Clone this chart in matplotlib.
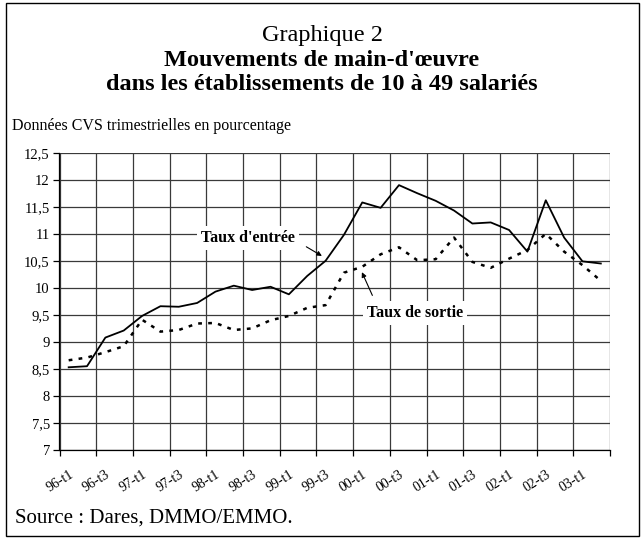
import matplotlib
matplotlib.use("Agg")
import matplotlib.pyplot as plt
from matplotlib.patches import Rectangle

plt.rcParams['font.family'] = ['Liberation Serif', 'DejaVu Serif']

quarters = [f"{y:02d}-t{q}" for y in [96, 97, 98, 99, 0, 1, 2, 3] for q in (1, 2, 3, 4)][:30]
tick_labels = ["96-t1", "96-t3", "97-t1", "97-t3", "98-t1", "98-t3", "99-t1", "99-t3",
               "00-t1", "00-t3", "01-t1", "01-t3", "02-t1", "02-t3", "03-t1"]

taux_entree = [8.53, 8.55, 9.08, 9.21, 9.48, 9.66, 9.65, 9.72, 9.93, 10.04,
               9.96, 10.02, 9.88, 10.22, 10.50, 10.98, 11.58, 11.48, 11.90, 11.75,
               11.61, 11.43, 11.19, 11.21, 11.07, 10.67, 11.62, 10.93, 10.49, 10.45]
taux_sortie = [8.66, 8.71, 8.81, 8.92, 9.41, 9.19, 9.22, 9.34, 9.35, 9.22,
               9.25, 9.40, 9.48, 9.63, 9.68, 10.28, 10.39, 10.62, 10.75, 10.51,
               10.53, 10.93, 10.48, 10.37, 10.54, 10.70, 11.00, 10.67, 10.42, 10.13]
y_ticks = [7, 7.5, 8, 8.5, 9, 9.5, 10, 10.5, 11, 11.5, 12, 12.5]

W, H = 644, 541
fig = plt.figure(figsize=(W / 100, H / 100), dpi=100)

# outer frame
fig.patches.append(Rectangle((6 / W, 1 - 536 / H), (639 - 6) / W, (536 - 3) / H,
                             transform=fig.transFigure, fill=False, ec='black', lw=1.0))

ax = fig.add_axes([59.5 / W, 1 - 450 / H, (610 - 59.5) / W, (450 - 152.7) / H])
n = len(quarters)
x = list(range(n))

ax.set_xlim(-0.5, n - 0.5)
ax.set_ylim(7, 12.5)

grid_c = '#3a3a3a'
bounds = [i - 0.5 for i in range(0, n + 1, 2)]
ax.set_xticks(bounds)
ax.set_xticklabels([])
ax.set_xticks(list(range(0, n, 2)), minor=True)
ax.set_xticklabels(tick_labels, minor=True, rotation=32, ha='right', rotation_mode='anchor',
                   fontsize=10)
ax.tick_params(axis='x', which='major', length=4, width=0.9, direction='out', color='black')
ax.tick_params(axis='x', which='minor', length=0, pad=13)
for b in bounds:
    ax.axvline(b, color=grid_c, lw=0.9, zorder=1)

ax.set_yticks(y_ticks)
ax.set_yticklabels([f"{v:g}".replace('.', ',') for v in y_ticks], fontsize=10.5)
ax.tick_params(axis='y', length=4, width=0.9, direction='out', pad=3)
for v in y_ticks:
    ax.axhline(v, color=grid_c, lw=0.9, zorder=1)

for s in ['top', 'right']:
    ax.spines[s].set_visible(False)
ax.spines['left'].set_linewidth(0.9)
ax.spines['bottom'].set_linewidth(0.9)

ax.plot(x, taux_entree, color='black', lw=1.3, zorder=3)
ax.plot(x, taux_sortie, color='black', lw=1.8, linestyle=(0, (1.5, 2.5)), zorder=3)

bbox = dict(facecolor='white', edgecolor='none', pad=3)
ax.text(9.77, 10.92, "Taux d'entrée", fontsize=11.5, fontweight='bold',
        ha='center', va='center', bbox=bbox, zorder=4)
ax.annotate('', xy=(13.8, 10.59), xytext=(12.95, 10.76),
            arrowprops=dict(arrowstyle='-|>', lw=0.8, color='black', mutation_scale=7,
                            shrinkA=0, shrinkB=0), zorder=4)
ax.text(18.87, 9.53, "Taux de sortie", fontsize=11.5, fontweight='bold',
        ha='center', va='center', bbox=bbox, zorder=4)
ax.annotate('', xy=(15.98, 10.29), xytext=(16.55, 9.86),
            arrowprops=dict(arrowstyle='-|>', lw=0.8, color='black', mutation_scale=7,
                            shrinkA=0, shrinkB=0), zorder=4)

fig.text(322 / W, 1 - 36 / H, "Graphique 2", fontsize=17.5, ha='center', va='center')
fig.text(322 / W, 1 - 61 / H, "Mouvements de main-d'œuvre", fontsize=17.5,
         fontweight='bold', ha='center', va='center')
fig.text(322 / W, 1 - 85 / H, "dans les établissements de 10 à 49 salariés", fontsize=17.5,
         fontweight='bold', ha='center', va='center')
fig.text(12 / W, 1 - 126 / H, "Données CVS trimestrielles en pourcentage", fontsize=11.5,
         ha='left', va='center')
fig.text(15 / W, 1 - 518 / H, "Source : Dares, DMMO/EMMO.", fontsize=15,
         ha='left', va='center')

fig.savefig('out.png', dpi=100)
